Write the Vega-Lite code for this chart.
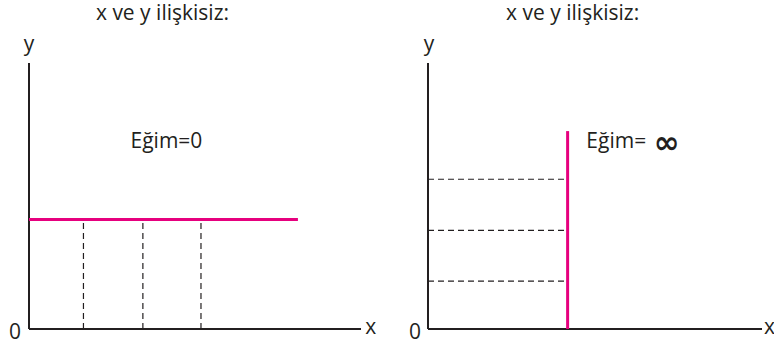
{
  "$schema": "https://vega.github.io/schema/vega-lite/v6.json",
  "padding": 0,
  "autosize": {"type": "pad"},
  "spacing": 0,
  "bounds": "flush",
  "config": {"view": {"stroke": null}, "background": "white"},
  "datasets": {
    "left_axes": [
      {"x": 0, "y": 0, "x2": 10, "y2": 0},
      {"x": 0, "y": 0, "x2": 0, "y2": 10}
    ],
    "left_line": [
      {"x": 0, "y": 4.12, "x2": 8.1, "y2": 4.12}
    ],
    "left_guides": [
      {"x": 1.64, "y": 0, "x2": 1.64, "y2": 4.12},
      {"x": 3.43, "y": 0, "x2": 3.43, "y2": 4.12},
      {"x": 5.18, "y": 0, "x2": 5.18, "y2": 4.12}
    ],
    "left_labels": [
      {"label": "x ve y ilişkisiz:", "x": 4.02, "y": 11.6},
      {"label": "Eğim=0", "x": 4.14, "y": 6.8},
      {"label": "y", "x": 0, "y": 10.45},
      {"label": "0", "x": -0.42, "y": -0.376},
      {"label": "x", "x": 10.29, "y": -0.19}
    ],
    "right_axes": [
      {"x": 0, "y": 0, "x2": 10, "y2": 0},
      {"x": 0, "y": 0, "x2": 0, "y2": 10}
    ],
    "right_line": [
      {"x": 4.18, "y": 0, "x2": 4.18, "y2": 7.44}
    ],
    "right_guides": [
      {"x": 0, "y": 5.63, "x2": 4.18, "y2": 5.63},
      {"x": 0, "y": 3.71, "x2": 4.18, "y2": 3.71},
      {"x": 0, "y": 1.8, "x2": 4.18, "y2": 1.8}
    ],
    "right_labels": [
      {"label": "x ve y ilişkisiz:", "x": 4.33, "y": 11.6},
      {"label": "y", "x": 0.03, "y": 10.45},
      {"label": "0", "x": -0.39, "y": -0.376}
    ],
    "right_labels_left": [
      {"label": "Eğim=", "x": 4.74, "y": 6.8},
      {"label": "x", "x": 10.06, "y": -0.19}
    ],
    "right_symbol": [
      {"label": "∞", "x": 6.76, "y": 6.62}
    ]
  },
  "hconcat": [
    {
      "width": 387,
      "height": 348,
      "encoding": {
        "x": {"field": "x", "type": "quantitative", "scale": {"domain": [-0.8735, 10.783], "nice": false, "zero": false}, "axis": null},
        "y": {"field": "y", "type": "quantitative", "scale": {"domain": [-0.714, 12.368], "nice": false, "zero": false}, "axis": null}
      },
      "layer": [
        {"data": {"name": "left_guides"}, "mark": {"type": "rule", "color": "#231f20", "strokeWidth": 1.2, "strokeDash": [6, 4]}, "encoding": {"x2": {"field": "x2"}, "y2": {"field": "y2"}}},
        {"data": {"name": "left_axes"}, "mark": {"type": "rule", "color": "#231f20", "strokeWidth": 2}, "encoding": {"x2": {"field": "x2"}, "y2": {"field": "y2"}}},
        {"data": {"name": "left_line"}, "mark": {"type": "rule", "color": "#e6007e", "strokeWidth": 3}, "encoding": {"x2": {"field": "x2"}, "y2": {"field": "y2"}}},
        {"data": {"name": "left_labels"}, "mark": {"type": "text", "font": "Open Sans", "fontSize": 21, "color": "#231f20", "align": "center", "baseline": "alphabetic"}, "encoding": {"text": {"field": "label"}}}
      ]
    },
    {
      "width": 387,
      "height": 348,
      "encoding": {
        "x": {"field": "x", "type": "quantitative", "scale": {"domain": [-1.2275, 10.359], "nice": false, "zero": false}, "axis": null},
        "y": {"field": "y", "type": "quantitative", "scale": {"domain": [-0.714, 12.368], "nice": false, "zero": false}, "axis": null}
      },
      "layer": [
        {"data": {"name": "right_guides"}, "mark": {"type": "rule", "color": "#231f20", "strokeWidth": 1.2, "strokeDash": [6, 4]}, "encoding": {"x2": {"field": "x2"}, "y2": {"field": "y2"}}},
        {"data": {"name": "right_axes"}, "mark": {"type": "rule", "color": "#231f20", "strokeWidth": 2}, "encoding": {"x2": {"field": "x2"}, "y2": {"field": "y2"}}},
        {"data": {"name": "right_line"}, "mark": {"type": "rule", "color": "#e6007e", "strokeWidth": 3}, "encoding": {"x2": {"field": "x2"}, "y2": {"field": "y2"}}},
        {"data": {"name": "right_labels"}, "mark": {"type": "text", "font": "Open Sans", "fontSize": 21, "color": "#231f20", "align": "center", "baseline": "alphabetic"}, "encoding": {"text": {"field": "label"}}},
        {"data": {"name": "right_labels_left"}, "mark": {"type": "text", "font": "Open Sans", "fontSize": 21, "color": "#231f20", "align": "left", "baseline": "alphabetic", "clip": true}, "encoding": {"text": {"field": "label"}}},
        {"data": {"name": "right_symbol"}, "mark": {"type": "text", "font": "DejaVu Sans", "fontSize": 31, "fontWeight": "bold", "color": "#231f20", "align": "left", "baseline": "alphabetic"}, "encoding": {"text": {"field": "label"}}}
      ]
    }
  ]
}
